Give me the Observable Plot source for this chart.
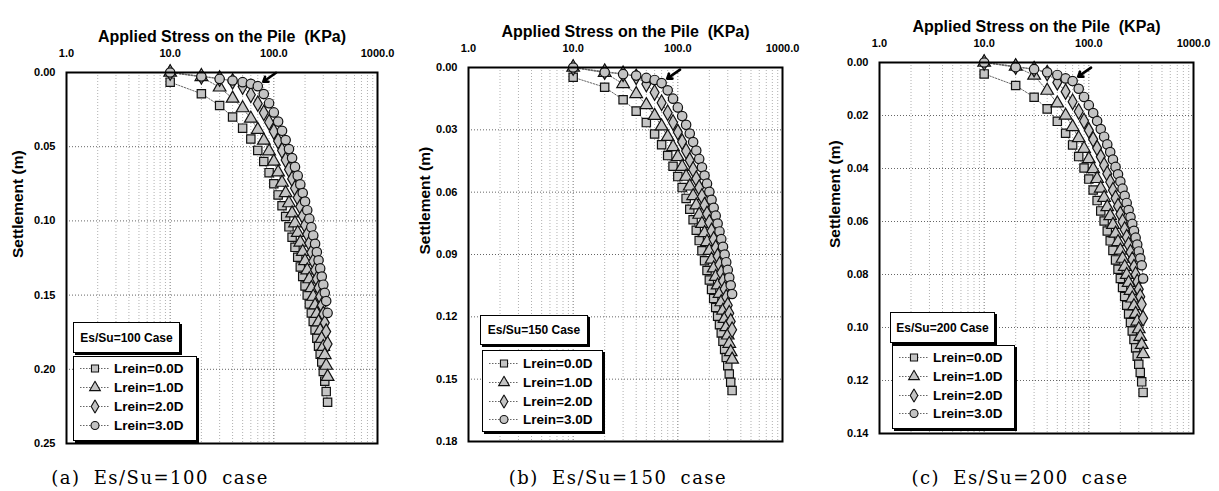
<!DOCTYPE html>
<html><head><meta charset="utf-8">
<script src="https://cdn.jsdelivr.net/npm/d3@7"></script>
<script src="https://cdn.jsdelivr.net/npm/@observablehq/plot@0.6"></script>
<style>
html,body{margin:0;padding:0;background:#fff;}
#root{position:relative;width:1219px;height:491px;overflow:hidden;font-family:"Liberation Sans",Arial,sans-serif;}
.panel{position:absolute;top:0;}
.box{position:absolute;border:1.5px solid #000;box-shadow:2px 2px 0 #000;background:#fff;box-sizing:border-box;}
.caseTxt{position:absolute;font-weight:bold;font-size:12px;white-space:nowrap;transform:translate(-50%,-50%);}
.legRow{position:absolute;display:flex;align-items:center;font-weight:bold;font-size:13.5px;white-space:nowrap;transform:translateY(-50%);}
.caption{position:absolute;font-family:"DejaVu Serif","Liberation Serif",serif;font-size:18px;letter-spacing:1.5px;word-spacing:6px;white-space:nowrap;transform:translate(-50%,-50%);}
</style>
</head><body><div id="root"></div>
<script>
// ---- data ----
const stress = [10,20,30,40,50,60,70,80,90,100,110,120,130,140,150,160,170,180,190,200,210,220,230,240,250,260,270,280,290,300,310,320,330];
const seriesNames = ["Lrein=0.0D","Lrein=1.0D","Lrein=2.0D","Lrein=3.0D"];
const seriesSymbols = ["square","triangle","diamond","circle"];

// Es/Su = 100
const a_L0 = [0.0065,0.0143,0.0222,0.0300,0.0375,0.0448,0.0525,0.0600,0.0675,0.0750,0.0825,0.0898,0.0970,0.1040,0.1110,0.1178,0.1245,0.1310,0.1375,0.1438,0.1500,0.1560,0.1620,0.1678,0.1735,0.1790,0.1845,0.1898,0.1950,0.2015,0.2080,0.2150,0.2222];
const a_L1 = [0.0000,0.0030,0.0100,0.0175,0.0240,0.0310,0.0385,0.0458,0.0530,0.0600,0.0672,0.0742,0.0812,0.0880,0.0948,0.1015,0.1080,0.1145,0.1208,0.1270,0.1332,0.1392,0.1452,0.1510,0.1568,0.1625,0.1682,0.1738,0.1793,0.1848,0.1903,0.1975,0.2050];
const a_L2 = [0.0000,0.0025,0.0040,0.0060,0.0095,0.0150,0.0210,0.0272,0.0335,0.0398,0.0462,0.0526,0.0590,0.0654,0.0717,0.0780,0.0843,0.0905,0.0967,0.1029,0.1090,0.1151,0.1212,0.1272,0.1332,0.1392,0.1451,0.1510,0.1569,0.1628,0.1687,0.1746,0.1830];
const a_L3 = [0.0000,0.0027,0.0043,0.0054,0.0065,0.0076,0.0092,0.0145,0.0207,0.0269,0.0331,0.0393,0.0455,0.0516,0.0576,0.0636,0.0695,0.0754,0.0812,0.0870,0.0928,0.0985,0.1042,0.1098,0.1154,0.1210,0.1265,0.1320,0.1375,0.1430,0.1485,0.1540,0.1620];
// Es/Su = 150
const b_L0 = [0.0047,0.0095,0.0155,0.0210,0.0265,0.0320,0.0372,0.0424,0.0475,0.0525,0.0578,0.0630,0.0682,0.0733,0.0783,0.0833,0.0882,0.0930,0.0977,0.1023,0.1068,0.1112,0.1155,0.1197,0.1238,0.1278,0.1318,0.1357,0.1396,0.1435,0.1475,0.1515,0.1555];
const b_L1 = [0.0000,0.0025,0.0079,0.0127,0.0180,0.0232,0.0283,0.0333,0.0382,0.0430,0.0478,0.0525,0.0572,0.0618,0.0663,0.0708,0.0752,0.0796,0.0839,0.0882,0.0924,0.0966,0.1007,0.1048,0.1089,0.1129,0.1169,0.1209,0.1249,0.1289,0.1329,0.1369,0.1405];
const b_L2 = [0.0000,0.0020,0.0030,0.0045,0.0080,0.0120,0.0170,0.0218,0.0265,0.0311,0.0357,0.0402,0.0447,0.0491,0.0535,0.0578,0.0621,0.0663,0.0705,0.0746,0.0787,0.0828,0.0868,0.0908,0.0948,0.0988,0.1027,0.1066,0.1105,0.1144,0.1183,0.1222,0.1262];
const b_L3 = [0.0000,0.0023,0.0032,0.0039,0.0050,0.0060,0.0075,0.0110,0.0150,0.0192,0.0234,0.0276,0.0318,0.0359,0.0400,0.0440,0.0480,0.0520,0.0559,0.0598,0.0637,0.0675,0.0713,0.0751,0.0789,0.0826,0.0863,0.0900,0.0937,0.0974,0.1011,0.1048,0.1090];
// Es/Su = 200
const c_L0 = [0.0043,0.0087,0.0131,0.0175,0.0222,0.0267,0.0311,0.0355,0.0398,0.0440,0.0481,0.0521,0.0560,0.0598,0.0636,0.0673,0.0709,0.0745,0.0780,0.0815,0.0849,0.0883,0.0916,0.0949,0.0981,0.1013,0.1045,0.1077,0.1108,0.1139,0.1170,0.1205,0.1245];
const c_L1 = [0.0000,0.0015,0.0049,0.0106,0.0154,0.0200,0.0243,0.0285,0.0325,0.0364,0.0402,0.0439,0.0475,0.0510,0.0545,0.0579,0.0612,0.0645,0.0677,0.0709,0.0740,0.0771,0.0801,0.0831,0.0861,0.0890,0.0919,0.0948,0.0977,0.1006,0.1035,0.1065,0.1100];
const c_L2 = [0.0000,0.0015,0.0025,0.0040,0.0075,0.0110,0.0148,0.0185,0.0221,0.0256,0.0290,0.0323,0.0356,0.0388,0.0420,0.0451,0.0482,0.0512,0.0542,0.0572,0.0601,0.0630,0.0659,0.0688,0.0716,0.0744,0.0772,0.0800,0.0828,0.0856,0.0884,0.0912,0.0965];
const c_L3 = [0.0000,0.0018,0.0025,0.0037,0.0047,0.0060,0.0070,0.0099,0.0130,0.0161,0.0191,0.0221,0.0251,0.0280,0.0309,0.0338,0.0366,0.0394,0.0422,0.0449,0.0476,0.0503,0.0530,0.0557,0.0583,0.0609,0.0635,0.0661,0.0687,0.0713,0.0739,0.0765,0.0815];

const xTicks = [1, 10, 100, 1000];
const yTicksA = [0, 0.05, 0.10, 0.15, 0.20, 0.25];
const yTicksB = [0, 0.03, 0.06, 0.09, 0.12, 0.15, 0.18];
const yTicksC = [0, 0.02, 0.04, 0.06, 0.08, 0.10, 0.12, 0.14];
const caseLabels = ["Es/Su=100 Case", "Es/Su=150 Case", "Es/Su=200 Case"];
const captions = ["(a) Es/Su=100 case", "(b) Es/Su=150 case", "(c) Es/Su=200 case"];
const xTitle = "Applied Stress on the Pile\u00a0 (KPa)";
const yTitle = "Settlement (m)";

// ---- layout ----
const panels = [
  {series:[a_L0,a_L1,a_L2,a_L3], yTicks:yTicksA, left:0, width:400, ml:66, mr:23, mt:72, mb:48, ylab:-48,
   box1:[73,322,107,31], box2:[73,356,124,85], rows:[368,387,406,425], cap:[160,477]},
  {series:[b_L0,b_L1,b_L2,b_L3], yTicks:yTicksB, left:404, width:400, ml:64, mr:22, mt:67, mb:50, ylab:-43,
   box1:[480,315,108,30], box2:[482,350,121,82], rows:[363,382,401,419], cap:[618,477]},
  {series:[c_L0,c_L1,c_L2,c_L3], yTicks:yTicksC, left:815, width:404, ml:64, mr:26, mt:62, mb:58, ylab:-44,
   box1:[890,312,105,31], box2:[892,345,123,84], rows:[357,376,395,413], cap:[1020,477]}
];

const root = document.getElementById("root");
const minorX = [];
for (const dec of [1, 10, 100]) for (let k = 2; k <= 9; k++) minorX.push(k * dec);

panels.forEach((p, pi) => {
  const data = [];
  p.series.forEach((vals, si) => vals.forEach((v, i) => data.push({stress: stress[i], settle: v, series: seriesNames[si]})));
  const yMax = p.yTicks[p.yTicks.length - 1];
  const marks = [
    Plot.ruleX(minorX, {stroke: "#b0b0b0", strokeDasharray: "1,2", strokeWidth: 1}),
    Plot.ruleX([10, 100], {stroke: "#777", strokeDasharray: "1,2", strokeWidth: 1}),
    Plot.ruleY(p.yTicks.slice(1, -1), {stroke: "#666", strokeDasharray: "1,2", strokeWidth: 1}),
    Plot.line(data, {x: "stress", y: "settle", z: "series", stroke: "#666", strokeWidth: 1, strokeDasharray: "1.5,1.5"})
  ];
  seriesNames.forEach((name, si) => {
    marks.push(Plot.dot(data.filter(d => d.series === name), {x: "stress", y: "settle", symbol: () => seriesSymbols[si], r: 4.7, fill: "#c4c4c4", stroke: "#111", strokeWidth: 1.2}));
  });
  const s3 = p.series[3];
  const target = [{s: stress[6], v: s3[6]}];
  marks.push(
    Plot.arrow(target, {
      x1: d => d.s * 1.5, y1: d => d.v - yMax * 0.036,
      x2: d => d.s * 1.13, y2: d => d.v - yMax * 0.012,
      stroke: "#000", strokeWidth: 2.6, headLength: 7, headAngle: 70
    }),
    Plot.frame({stroke: "#000", strokeWidth: 2}),
    Plot.axisX({anchor: "top", ticks: xTicks, tickFormat: d => d.toFixed(1), tickSize: 0, tickPadding: 16, label: null}),
    Plot.axisY({anchor: "left", ticks: p.yTicks, tickFormat: d3.format(".2f"), tickSize: 0, tickPadding: 11, label: null}),
    Plot.text([xTitle], {frameAnchor: "top", dy: -42, fontSize: 16, fontWeight: "bold", fill: "#000"}),
    Plot.text([yTitle], {frameAnchor: "left", dx: p.ylab, rotate: -90, fontSize: 15.5, fontWeight: "bold", fill: "#000"})
  );
  const chart = Plot.plot({
    width: p.width, height: 491,
    marginLeft: p.ml, marginRight: p.mr, marginTop: p.mt, marginBottom: p.mb,
    x: {type: "log", domain: [1, 1000]},
    y: {domain: [0, yMax], reverse: true},
    style: {fontFamily: "'Liberation Sans', Arial, sans-serif", fontSize: "11px", fontWeight: "bold", color: "#000", background: "transparent", overflow: "visible"},
    marks
  });
  const wrap = document.createElement("div");
  wrap.className = "panel";
  wrap.style.left = p.left + "px";
  wrap.appendChild(chart);
  root.appendChild(wrap);

  // case label box
  const b1 = document.createElement("div");
  b1.className = "box";
  Object.assign(b1.style, {left: p.box1[0] + "px", top: p.box1[1] + "px", width: p.box1[2] + "px", height: p.box1[3] + "px"});
  root.appendChild(b1);
  const t1 = document.createElement("div");
  t1.className = "caseTxt";
  t1.textContent = caseLabels[pi];
  Object.assign(t1.style, {left: (p.box1[0] + p.box1[2] / 2) + "px", top: (p.box1[1] + p.box1[3] / 2) + "px"});
  root.appendChild(t1);

  // legend box
  const b2 = document.createElement("div");
  b2.className = "box";
  Object.assign(b2.style, {left: p.box2[0] + "px", top: p.box2[1] + "px", width: p.box2[2] + "px", height: p.box2[3] + "px"});
  root.appendChild(b2);
  const d3sym = [d3.symbolSquare, d3.symbolTriangle, d3.symbolDiamond, d3.symbolCircle];
  seriesNames.forEach((name, si) => {
    const row = document.createElement("div");
    row.className = "legRow";
    Object.assign(row.style, {left: (p.box2[0] + 5) + "px", top: p.rows[si] + "px"});
    const ns = "http://www.w3.org/2000/svg";
    const svg = document.createElementNS(ns, "svg");
    svg.setAttribute("width", 34); svg.setAttribute("height", 14);
    svg.style.marginRight = "2px";
    const ln = document.createElementNS(ns, "line");
    ln.setAttribute("x1", 2); ln.setAttribute("x2", 32); ln.setAttribute("y1", 7); ln.setAttribute("y2", 7);
    ln.setAttribute("stroke", "#666"); ln.setAttribute("stroke-dasharray", "1.5,1.5");
    svg.appendChild(ln);
    const path = document.createElementNS(ns, "path");
    path.setAttribute("d", d3.symbol(d3sym[si], 50)());
    path.setAttribute("transform", "translate(17,7)");
    path.setAttribute("fill", "#c4c4c4"); path.setAttribute("stroke", "#111"); path.setAttribute("stroke-width", 1.1);
    svg.appendChild(path);
    row.appendChild(svg);
    const span = document.createElement("span");
    span.textContent = name;
    row.appendChild(span);
    root.appendChild(row);
  });

  // caption
  const cap = document.createElement("div");
  cap.className = "caption";
  cap.textContent = captions[pi];
  Object.assign(cap.style, {left: p.cap[0] + "px", top: p.cap[1] + "px"});
  root.appendChild(cap);
});
</script>
</body></html>
